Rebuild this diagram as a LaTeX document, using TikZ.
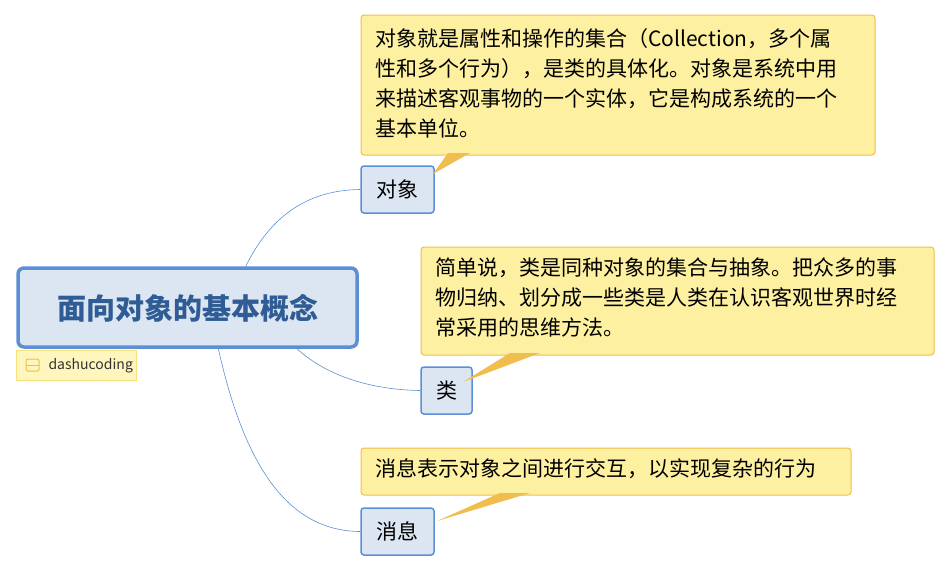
\documentclass[tikz,border=0pt]{standalone}
\usepackage{fontspec}
\setmainfont{Noto Sans CJK SC}
\definecolor{nodefill}{HTML}{DCE6F2}
\definecolor{nodeline}{HTML}{5B8FD6}
\definecolor{titletext}{HTML}{2F5C94}
\definecolor{callfill}{HTML}{FDF0A0}
\definecolor{callline}{HTML}{F0BE4C}
\definecolor{tagfill}{HTML}{FFF6BE}
\definecolor{tagline}{HTML}{F8E27E}
\begin{document}
\begin{tikzpicture}[x=1pt,y=-1pt,
  topic/.style={draw=nodeline,fill=nodefill,line width=1.5pt,rounded corners=3pt},
  callbox/.style={draw=callline,fill=callfill,line width=1pt,rounded corners=3pt},
  wedge/.style={fill=callline,draw=none},
  link/.style={draw=nodeline,line width=0.6pt},
  txt/.style={font=\fontsize{21}{30}\selectfont,align=left,anchor=north west,inner sep=0pt,text=black}]
\useasboundingbox (0,0) rectangle (951,573);
% central
\draw[topic,line width=3.5pt,rounded corners=6pt] (18,268) rectangle (357,347);
\node[font=\fontsize{29}{32}\selectfont\bfseries,text=titletext] (root) at (187.5,308) {面向对象的基本概念};
\draw[fill=tagfill,draw=tagline] (16,350) rectangle (136,380);
\draw[draw=callline,fill=tagfill,line width=1pt,rounded corners=2pt] (26,359) rectangle (39,371);
\draw[callline,line width=1pt] (26,365)--(39,365);
\node[font=\fontsize{14}{16}\selectfont,text=black!80,anchor=west] (tag) at (45,365.5) {dashucoding};
% connectors
\coordinate (r1) at (245,268);
\coordinate (r2) at (295,347);
\coordinate (r3) at (218,347);
\node[topic,minimum width=73pt,minimum height=47pt,font=\fontsize{21}{24}\selectfont] (dx) at (397.5,189.5) {对象};
\node[topic,minimum width=51pt,minimum height=47pt,font=\fontsize{21}{24}\selectfont] (lei) at (446.5,390.5) {类};
\node[topic,minimum width=73pt,minimum height=47pt,font=\fontsize{21}{24}\selectfont] (xx) at (397.5,531.5) {消息};
\draw[link] (r1) .. controls (275,205) and (320,190) .. (dx.west);
\draw[link] (r2) .. controls (330,380) and (380,390) .. (lei.west);
\draw[link] (r3) .. controls (245,470) and (290,531) .. (xx.west);
% callouts
\draw[callbox] (361,15) rectangle (875,155);
\fill[wedge] (448,153) -- (470,153) -- (433,174) -- cycle;
\node[txt] (c1) at (375,28) {对象就是属性和操作的集合（Collection，多个属\\性和多个行为），是类的具体化。对象是系统中用\\来描述客观事物的一个实体，它是构成系统的一个\\基本单位。};
\draw[callbox] (421,247) rectangle (934,355);
\fill[wedge] (510,353) -- (540,353) -- (463,382) -- cycle;
\node[txt] (c2) at (435,258) {简单说，类是同种对象的集合与抽象。把众多的事\\物归纳、划分成一些类是人类在认识客观世界时经\\常采用的思维方法。};
\draw[callbox] (361,448) rectangle (851,495);
\fill[wedge] (500,493) -- (530,493) -- (437,521) -- cycle;
\node[txt] (c3) at (375,458) {消息表示对象之间进行交互，以实现复杂的行为};
\end{tikzpicture}
\end{document}
